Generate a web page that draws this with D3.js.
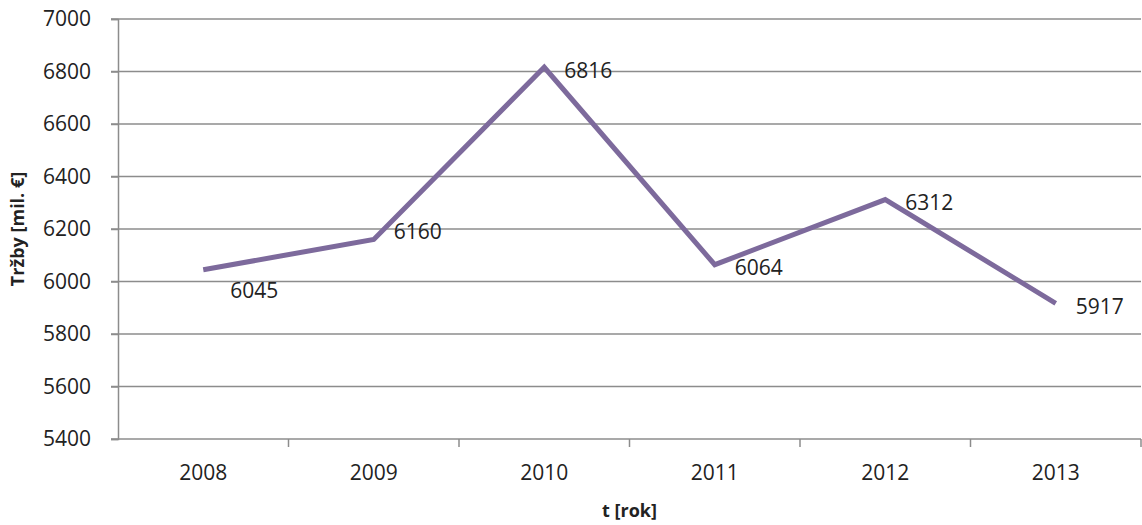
<!DOCTYPE html>
<html>
<head>
    <script src="https://cdn.jsdelivr.net/npm/d3@7"></script>
</head>
<style>
    body { margin: 0; background: white; }
    text { font-family: "Open Sans", sans-serif; fill: #222; }
</style>
<body>
<div id="chart"></div>
<script>
    var years = ['2008', '2009', '2010', '2011', '2012', '2013'];
    var sales = [6045, 6160, 6816, 6064, 6312, 5917];
    var yTicks = [5400, 5600, 5800, 6000, 6200, 6400, 6600, 6800, 7000];

    var W = 1142, H = 525;
    var padding = { top: 19, right: 1, bottom: 86, left: 118 };
    var width = W - padding.left - padding.right;
    var height = H - padding.top - padding.bottom;

    var xScale = d3.scaleBand()
        .domain(years)
        .range([0, width]);

    var yScale = d3.scaleLinear()
        .domain([5400, 7000])
        .range([height, 0]);

    var svg = d3.select('#chart').append('svg')
        .attr('width', W)
        .attr('height', H);

    var g = svg.append('g')
        .attr('transform', 'translate(' + padding.left + ',' + padding.top + ')');

    // gridlines
    g.selectAll('line.grid')
        .data(yTicks)
        .enter()
        .append('line')
        .attr('class', 'grid')
        .attr('x1', -7)
        .attr('x2', width)
        .attr('y1', function(d) { return yScale(d); })
        .attr('y2', function(d) { return yScale(d); })
        .attr('stroke', '#8c8c8c')
        .attr('stroke-width', 1.5);

    // y axis
    var yAxis = g.append('g')
        .call(d3.axisLeft(yScale).tickValues(yTicks).tickSize(7).tickPadding(20).tickFormat(d3.format('d')));
    yAxis.select('.domain').attr('stroke', '#8c8c8c').attr('stroke-width', 1.5);
    yAxis.selectAll('line').attr('stroke', '#8c8c8c').attr('stroke-width', 1.5);
    yAxis.selectAll('text').attr('font-size', 21).attr('font-family', 'Open Sans').attr('fill', '#222');

    // x axis
    var xAxis = g.append('g')
        .attr('transform', 'translate(0,' + height + ')')
        .call(d3.axisBottom(xScale).tickSize(0).tickPadding(26));
    xAxis.select('.domain').remove();
    xAxis.selectAll('text').attr('font-size', 21).attr('font-family', 'Open Sans').attr('fill', '#222');

    // category separators
    g.selectAll('line.sep')
        .data(years)
        .enter()
        .append('line')
        .attr('class', 'sep')
        .attr('x1', function(d) { return xScale(d) + xScale.bandwidth(); })
        .attr('x2', function(d) { return xScale(d) + xScale.bandwidth(); })
        .attr('y1', height)
        .attr('y2', height + 8)
        .attr('stroke', '#8c8c8c')
        .attr('stroke-width', 1.5);

    var line = d3.line()
        .x(function(d, i) { return xScale(years[i]) + xScale.bandwidth() / 2; })
        .y(function(d) { return yScale(d); });

    g.append('path')
        .datum(sales)
        .attr('d', line)
        .attr('fill', 'none')
        .attr('stroke', '#7d6a9c')
        .attr('stroke-width', 5)
        .attr('stroke-linejoin', 'miter');

    // data labels to the right of the point; first one sits below, second a bit above
    g.selectAll('text.label')
        .data(sales)
        .enter()
        .append('text')
        .attr('class', 'label')
        .attr('x', function(d, i) { return xScale(years[i]) + xScale.bandwidth() / 2 + (i === 0 ? 27 : 20); })
        .attr('y', function(d, i) { return yScale(d) + (i === 0 ? 21 : i === 1 ? -8 : 3); })
        .attr('dy', '0.35em')
        .attr('font-size', 21)
        .text(function(d) { return d; });

    // axis titles
    svg.append('text')
        .attr('transform', 'translate(24,' + (padding.top + height / 2) + ') rotate(-90)')
        .attr('text-anchor', 'middle')
        .attr('font-size', 18)
        .attr('font-weight', 'bold')
        .text('Tržby [mil. €]');

    svg.append('text')
        .attr('x', padding.left + width / 2)
        .attr('y', 517)
        .attr('text-anchor', 'middle')
        .attr('font-size', 18)
        .attr('font-weight', 'bold')
        .text('t [rok]');
</script>
</body>
</html>
